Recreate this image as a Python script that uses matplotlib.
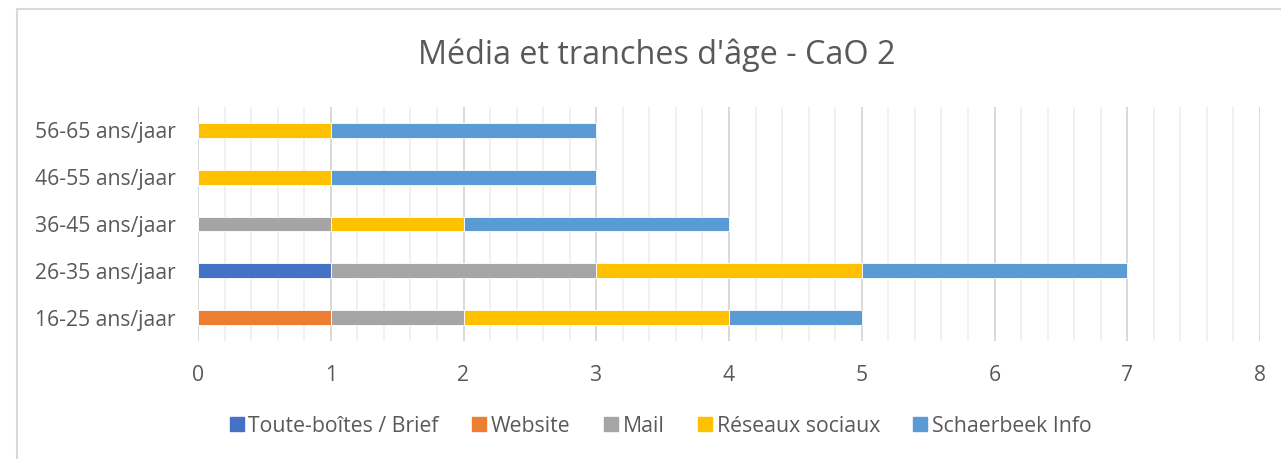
import matplotlib.pyplot as plt
import numpy as np
from matplotlib.lines import Line2D
from matplotlib.ticker import MultipleLocator

plt.rcParams['font.family'] = ['Open Sans', 'DejaVu Sans']

# Age groups (bottom to top) and number of answers per medium
ages = ['16-25 ans/jaar', '26-35 ans/jaar', '36-45 ans/jaar', '46-55 ans/jaar', '56-65 ans/jaar']
toutes_boites = [0, 1, 0, 0, 0]
website = [1, 0, 0, 0, 0]
mail = [1, 2, 1, 0, 0]
reseaux = [2, 2, 1, 1, 1]
schaerbeek = [1, 2, 2, 2, 2]

series = [
    ('Toute-boîtes / Brief', toutes_boites, '#4472C4'),
    ('Website', website, '#ED7D31'),
    ('Mail', mail, '#A5A5A5'),
    ('Réseaux sociaux', reseaux, '#FFC000'),
    ('Schaerbeek Info', schaerbeek, '#5B9BD5'),
]

txt = '#595959'

fig = plt.figure(figsize=(12.81, 4.59), dpi=100)
ax = fig.add_axes([198 / 1281, 1 - 341 / 459, (1260 - 198) / 1281, (341 - 107) / 459])

y = np.arange(len(ages))
left = np.zeros(len(ages))
for name, vals, col in series:
    vals = np.array(vals, dtype=float)
    ax.barh(y, vals, left=left, height=0.32, color=col, edgecolor='white',
            linewidth=0.6, label=name, zorder=3)
    left += vals

ax.set_xlim(0, 8)
ax.set_ylim(-0.5, len(ages) - 0.5)
ax.set_yticks(y)
ax.set_yticklabels(ages)
ax.xaxis.set_major_locator(MultipleLocator(1))
ax.xaxis.set_minor_locator(MultipleLocator(0.2))
ax.grid(axis='x', which='major', color='#d9d9d9', linewidth=1.4, zorder=1)
ax.grid(axis='x', which='minor', color='#f0f0f0', linewidth=1.4, zorder=0)
ax.set_axisbelow(True)
for s in ax.spines.values():
    s.set_visible(False)
ax.tick_params(axis='both', which='both', length=0, labelsize=15.2, colors=txt)
ax.tick_params(axis='y', pad=16)
ax.tick_params(axis='x', pad=17)

fig.text(657 / 1281, 1 - 55 / 459, "Média et tranches d'âge - CaO 2",
         ha='center', va='center', fontsize=23.3, color=txt)

handles = [Line2D([], [], marker='s', linestyle='none', markersize=9.5,
                  markerfacecolor=c, markeredgecolor=c) for _, _, c in series]
fig.legend(handles, [n for n, _, _ in series], loc='center',
           bbox_to_anchor=(661 / 1281, 1 - 426 / 459), ncol=5, frameon=False,
           fontsize=15.3, labelcolor=txt, handlelength=0.6, handletextpad=0.25,
           columnspacing=1.6)

# chart frame
fig.add_artist(Line2D([17 / 1281, 1], [1 - 9 / 459, 1 - 9 / 459],
                      color='#d9d9d9', linewidth=1.5, transform=fig.transFigure))
fig.add_artist(Line2D([17 / 1281, 17 / 1281], [0, 1 - 9 / 459],
                      color='#d9d9d9', linewidth=1.5, transform=fig.transFigure))

fig.savefig('out.png', dpi=100)
